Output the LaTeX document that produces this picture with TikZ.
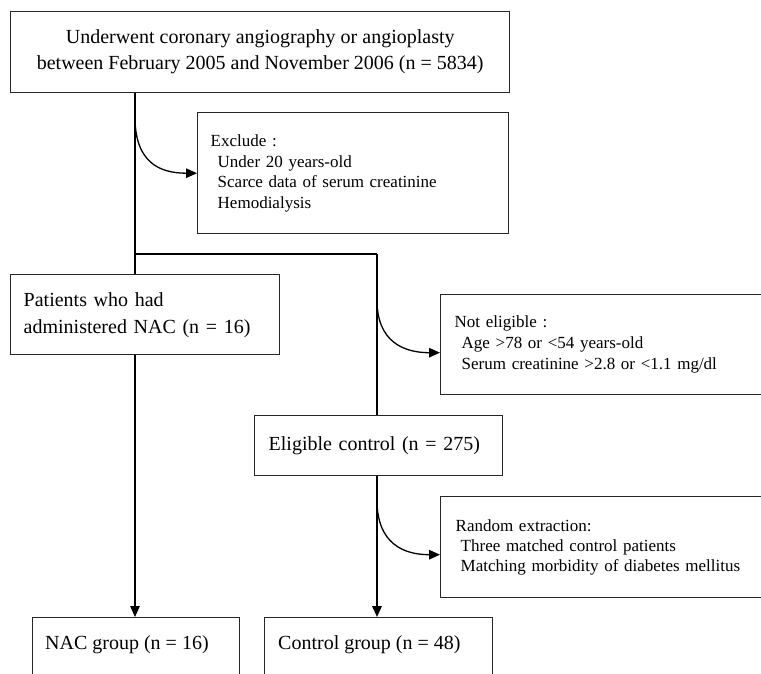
\documentclass[tikz,border=0pt]{standalone}
\usepackage{fontspec}
\setmainfont{Liberation Serif}
\usetikzlibrary{arrows.meta,calc}
\newcommand\fsz[2]{\fontsize{#1}{#2}\selectfont}
\begin{document}
\begin{tikzpicture}[x=1pt,y=-1pt,
  box/.style={draw=black!85, line width=1.4pt, rectangle, anchor=north west, inner ysep=0pt},
  conn/.style={line width=1.3pt, black},
  connb/.style={line width=2pt, black},
  tip/.style={-{Triangle[length=11pt,width=9.5pt]}},
  lbl/.style={anchor=west, inner sep=0pt, font=\fsz{20}{26}}]
\useasboundingbox (0,0) rectangle (761,674);
\clip (0,0) rectangle (761,674);
\fill[white] (0,0) rectangle (761,674);

% boxes
\node[box, minimum width=499pt, minimum height=81pt, align=center, font=\fsz{20}{26}]
  (top) at (10,11) {Underwent coronary angiography or angioplasty\\between February 2005 and November 2006 (n = 5834)};
\node[box, minimum height=121pt, inner xsep=13pt, text width=285pt, align=left, font=\fsz{17}{20.5}]
  (excl) at (197,112) {Exclude :\\\hspace*{7pt}Under 20 years-old\\\hspace*{7pt}Scarce data of serum creatinine\\\hspace*{7pt}Hemodialysis\\[2pt]};
\node[box, minimum height=80pt, inner xsep=13pt, text width=243pt, align=left, font=\fsz{20}{27}]
  (patients) at (10,274) {Patients who had\\administered NAC (n = 16)};
\node[box, minimum height=100pt, inner xsep=14pt, text width=312pt, align=left, font=\fsz{17}{21}]
  (notel) at (440,294) {Not eligible :\\\hspace*{7pt}Age >78 or <54 years-old\\\hspace*{7pt}Serum creatinine >2.8 or <1.1 mg/dl\\[10pt]};
\node[box, minimum height=60pt, inner xsep=14pt, text width=220pt, align=left, font=\fsz{20}{26}]
  (elig) at (254,415) {Eligible control (n = 275)\\[-2pt]};
\node[box, minimum height=101pt, inner xsep=15pt, text width=310pt, align=left, font=\fsz{17}{20}]
  (rand) at (440,496) {Random extraction:\\\hspace*{5pt}Three matched control patients\\\hspace*{5pt}Matching morbidity of diabetes mellitus\\[9pt]};
\node[box, minimum width=207pt, minimum height=90pt] (nac) at (32,617) {};
\node[box, minimum width=228pt, minimum height=90pt] (ctrl) at (264,617) {};
\node[lbl] (nactext) at ($(nac.north west)+(13,28)$) {NAC group (n = 16)};
\node[lbl] (ctrltext) at ($(ctrl.north west)+(14,28)$) {Control group (n = 48)};

% connectors
\coordinate (jl) at (135,254);
\coordinate (jr) at (377,254);
\coordinate (c1) at (135,117);
\coordinate (c2) at (377,300);
\coordinate (c3) at (377,500);

\draw[conn] (top.south -| jl) -- (patients.north -| jl);
\draw[conn] (jl) -- (jr);
\draw[connb] ([yshift=-0.3pt]jr) -- (elig.north -| jr);
\draw[conn, tip] (c1) .. controls +(0,45) and +(-38,0) .. (excl.west);
\draw[conn, tip] (c2) .. controls +(0,42) and +(-36,0) .. ($(notel.west)+(0,8)$);
\draw[conn, tip] (c3) .. controls +(0,44) and +(-36,0) .. ($(rand.west)+(0,7.5)$);
\draw[conn, tip] (patients.south -| jl) -- (nac.north -| jl);
\draw[connb, tip] (elig.south -| jr) -- (ctrl.north -| jr);
\end{tikzpicture}
\end{document}
